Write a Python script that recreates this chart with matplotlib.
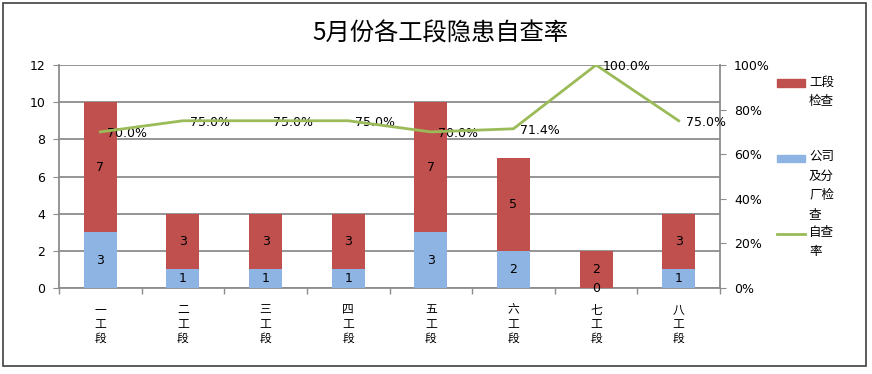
import matplotlib
matplotlib.use('Agg')
import matplotlib.pyplot as plt
from matplotlib.patches import Rectangle
from matplotlib.lines import Line2D
from matplotlib.ticker import FuncFormatter, FixedLocator
import numpy as np

plt.rcParams['font.family'] = ['DejaVu Sans', 'Noto Sans CJK SC']

categories = ['一工段', '二工段', '三工段', '四工段', '五工段', '六工段', '七工段', '八工段']
company_checks = [3, 1, 1, 1, 3, 2, 0, 1]      # 公司及分厂检查
section_checks = [7, 3, 3, 3, 7, 5, 2, 3]      # 工段检查
self_rate = [0.70, 0.75, 0.75, 0.75, 0.70, 0.714, 1.00, 0.75]  # 自查率
left_ticks = [0, 2, 4, 6, 8, 10, 12]
right_ticks = [0, 0.2, 0.4, 0.6, 0.8, 1.0]

RED = '#C0504D'
BLUE = '#8DB4E2'
GREEN = '#9BBB59'
GRID = '#8C8C8C'

W, H = 872, 374
fig = plt.figure(figsize=(W / 100, H / 100), dpi=100)

def fx(px):
    return px / W

def fy(py):
    return 1 - py / H

ax = fig.add_axes([fx(59), fy(288), fx(720) - fx(59), fy(65) - fy(288)])
x = np.arange(len(categories))
bw = 0.4

b1 = ax.bar(x, company_checks, bw, color=BLUE, zorder=3)
b2 = ax.bar(x, section_checks, bw, bottom=company_checks, color=RED, zorder=3)
ax.bar_label(b1, labels=[str(v) for v in company_checks], label_type='center', fontsize=9, color='black')
ax.bar_label(b2, labels=[str(v) for v in section_checks], label_type='center', fontsize=9, color='black')

ax.set_xlim(-0.5, len(categories) - 0.5)
ax.set_ylim(0, 12)
ax.set_yticks(left_ticks)
ax.tick_params(axis='y', labelsize=9, length=4, color=GRID, pad=6)
ax.grid(axis='y', color=GRID, linewidth=1.3, zorder=0)
ax.set_axisbelow(True)

ax.set_xticks(x)
ax.set_xticklabels(['\n'.join(c) for c in categories], fontsize=8.5, linespacing=1.15,
                   family=['Noto Sans CJK SC', 'DejaVu Sans'])
ax.xaxis.set_minor_locator(FixedLocator(np.arange(-0.5, len(categories), 1.0)))
ax.tick_params(axis='x', which='major', length=0, pad=11)
ax.tick_params(axis='x', which='minor', length=4, color=GRID, width=1)

for s in ['top', 'right']:
    ax.spines[s].set_visible(False)
for s in ['left', 'bottom']:
    ax.spines[s].set_color(GRID)
    ax.spines[s].set_linewidth(1.3)

ax2 = ax.twinx()
ax2.plot(x, self_rate, color=GREEN, linewidth=2, zorder=4)
ax2.set_ylim(0, 1)
ax2.set_yticks(right_ticks)
ax2.yaxis.set_major_formatter(FuncFormatter(lambda v, p: f'{v*100:.0f}%'))
ax2.tick_params(axis='y', labelsize=9, length=4, color=GRID, pad=6)
for s in ['top', 'left', 'bottom']:
    ax2.spines[s].set_visible(False)
ax2.spines['right'].set_color(GRID)
ax2.spines['right'].set_linewidth(1.3)
for xi, v in zip(x, self_rate):
    ax2.annotate(f'{v*100:.1f}%', (xi, v), xytext=(5, -1), textcoords='offset points',
                 ha='left', va='center', fontsize=9)

fig.text(0.505, fy(34), '5月份各工段隐患自查率', ha='center', va='center', fontsize=17.5,
         family=['Noto Sans CJK SC', 'DejaVu Sans'])

# legend
leg_font = dict(ha='left', va='top', fontsize=9, linespacing=1.65,
                family=['Noto Sans CJK SC', 'DejaVu Sans'])
fig.add_artist(Rectangle((fx(777), fy(87)), fx(805) - fx(777), fy(79) - fy(87), color=RED, transform=fig.transFigure))
fig.text(fx(809), fy(76), '工段\n检查', **leg_font)
fig.add_artist(Rectangle((fx(777), fy(162)), fx(805) - fx(777), fy(155) - fy(162), color=BLUE, transform=fig.transFigure))
fig.text(fx(809), fy(150), '公司\n及分\n厂检\n查', **leg_font)
fig.add_artist(Line2D([fx(777), fx(805)], [fy(234), fy(234)], color=GREEN, linewidth=2, transform=fig.transFigure))
fig.text(fx(809), fy(226), '自查\n率', **leg_font)

# chart frame
fig.add_artist(Rectangle((fx(3), fy(366)), fx(866) - fx(3), fy(3) - fy(366), fill=False,
                         edgecolor='#404040', linewidth=1.2, transform=fig.transFigure))

fig.savefig('out.png', dpi=100)
